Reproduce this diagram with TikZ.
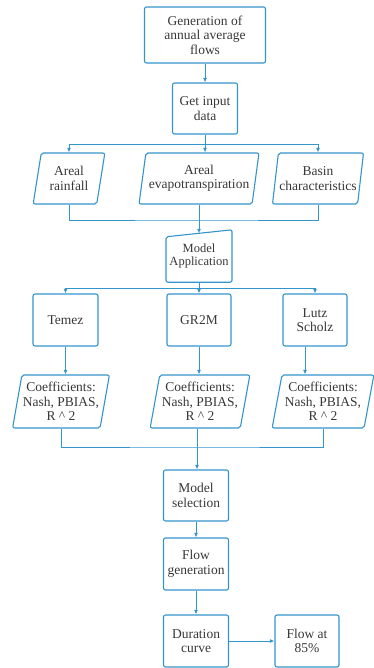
\documentclass[tikz,border=0pt]{standalone}
\usepackage{fontspec}
\setmainfont{Liberation Serif}
\usetikzlibrary{shapes.geometric,arrows.meta}
\definecolor{flowblue}{RGB}{52,148,204}
\definecolor{txtgray}{RGB}{55,55,55}
\newcommand{\boxfont}{\fontsize{13.5}{14.5}\selectfont}
\newcommand{\appfont}{\fontsize{12.5}{13.5}\selectfont}

\tikzset{
  box/.style={draw=flowblue, line width=1.1pt, rounded corners=2pt, align=center,
    text=txtgray, font=\boxfont, inner sep=1pt},
  slantbox/.style={box, trapezium, trapezium stretches=true,
    trapezium left angle=77, trapezium right angle=103},
  link/.style={draw=flowblue, line width=0.9pt},
  arr/.style={link, -{Latex[length=4.5pt,width=4pt]}}
}

\begin{document}
\begin{tikzpicture}[x=1pt,y=-1pt]
\useasboundingbox (0,0) rectangle (374,668);

% top of the chart
\node (gen) at (205,35) [box, minimum width=121pt, minimum height=56pt] {Generation of\\annual average\\flows};
\node (inp) at (205,108.5) [box, minimum width=65pt, minimum height=51pt] {Get input\\data};

% input data
\node (rain) at (69,178.5) [slantbox, minimum width=72pt, minimum height=51pt] {Areal\\rainfall};
\node (evap) at (199,178.5) [slantbox, minimum width=120pt, minimum height=51pt] {Areal\\evapotranspiration};
\node (basin) at (318,178.5) [slantbox, minimum width=87pt, minimum height=51pt] {Basin\\characteristics};

% model application (manual input shape)
\node (app) at (199,256) [minimum width=64pt, minimum height=52pt, align=center, text=txtgray, font=\appfont] {Model\\Application};
\draw[box] ([yshift=-7pt]app.north west) -- (app.north east) -- (app.south east) -- (app.south west) -- cycle;

% models
\node (temez) at (65.5,320) [box, minimum width=65pt, minimum height=52pt] {Temez};
\node (gr2m) at (199,320) [box, minimum width=64pt, minimum height=52pt] {GR2M};
\node (lutz) at (315,320) [box, minimum width=64pt, minimum height=52pt] {Lutz\\Scholz};

\node (c1) at (61,401.5) [slantbox, minimum width=95pt, minimum height=53pt] {Coefficients:\\Nash, PBIAS,\\R \textasciicircum{} 2};
\node (c2) at (200,401.5) [slantbox, minimum width=100pt, minimum height=53pt] {Coefficients:\\Nash, PBIAS,\\R \textasciicircum{} 2};
\node (c3) at (323,401.5) [slantbox, minimum width=102pt, minimum height=53pt] {Coefficients:\\Nash, PBIAS,\\R \textasciicircum{} 2};

% bottom of the chart
\node (sel) at (196,495.5) [box, minimum width=65pt, minimum height=51pt] {Model\\selection};
\node (fgen) at (196,564) [box, minimum width=65pt, minimum height=52pt] {Flow\\generation};
\node (dur) at (196,641) [box, minimum width=65pt, minimum height=52pt] {Duration\\curve};
\node (f85) at (307,641) [box, minimum width=64pt, minimum height=52pt] {Flow at\\85\%};

\coordinate (j1) at (205,144);
\coordinate (j2) at (199,220);
\coordinate (j3) at (199,288);
\coordinate (j4) at (197,447);

\draw[arr] (gen) -- (inp);
\draw[link] (inp) -- (j1);
\draw[arr] (j1) -| (rain);
\draw[arr] (j1) -- (j1 |- evap.north);
\draw[arr] (j1) -| (basin);

\draw[link] (rain.center |- rain.south) |- (j2) -| (basin.center |- basin.south);
\draw[link] (evap.center |- evap.south) -- (j2);
\draw[arr] (j2) -- ([yshift=-3.5pt]app.north);

\draw[link] (app) -- (j3);
\draw[arr] (j3) -| (temez);
\draw[arr] (j3) -- (gr2m);
\draw[arr] (j3) -| (lutz);

\draw[arr] (temez.south) -- (temez.south |- c1.north);
\draw[arr] (gr2m.south) -- (gr2m.south |- c2.north);
\draw[arr] ([xshift=-10pt]lutz.south) -- ([xshift=-10pt]lutz.south |- c3.north);

\draw[link] (c1.center |- c1.south) |- (j4) -| (c3.center |- c3.south);
\draw[link] (j4 |- c2.south) -- (j4);
\draw[arr] (j4) -- (j4 |- sel.north);
\draw[arr] (sel) -- (fgen);
\draw[arr] (fgen) -- (dur);
\draw[arr] (dur) -- (f85);

\end{tikzpicture}
\end{document}
